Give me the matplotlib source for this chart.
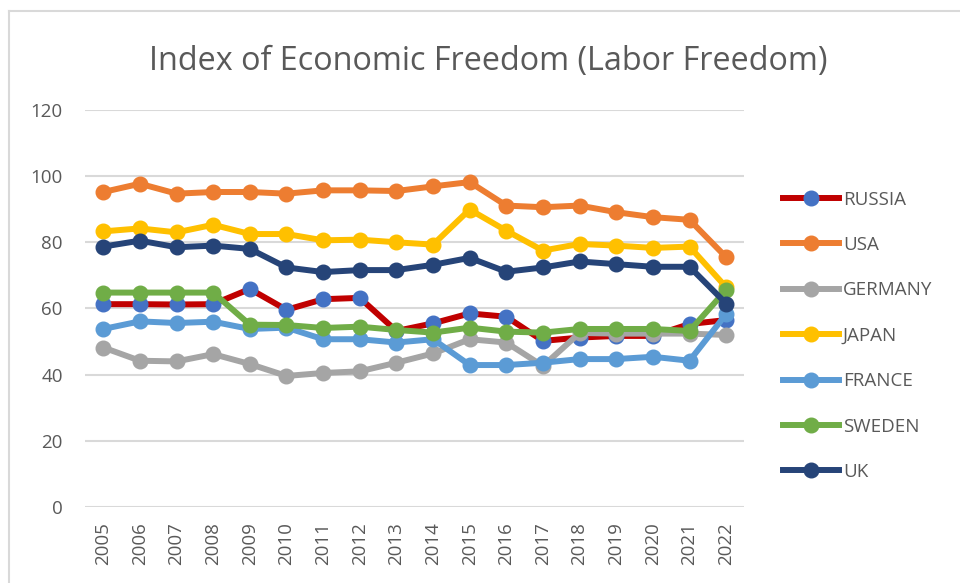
import matplotlib.pyplot as plt
from matplotlib.lines import Line2D

years = [str(y) for y in range(2005, 2023)]

russia = [61.3, 61.3, 61.2, 61.3, 65.9, 59.6, 62.8, 63.2, 53.2, 55.5, 58.5, 57.5, 50.2, 51.2, 51.7, 51.7, 55.3, 56.5]
usa = [95.2, 97.7, 94.7, 95.2, 95.2, 94.7, 95.7, 95.7, 95.5, 96.9, 98.2, 91.1, 90.6, 91.1, 89.1, 87.6, 86.8, 75.5]
germany = [48.2, 44.2, 44.0, 46.2, 43.2, 39.6, 40.5, 41.0, 43.6, 46.4, 50.7, 49.7, 42.6, 52.6, 52.4, 52.4, 52.4, 52.0]
japan = [83.3, 84.2, 83.0, 85.3, 82.5, 82.5, 80.6, 80.8, 80.0, 79.3, 89.9, 83.5, 77.5, 79.5, 79.0, 78.3, 78.7, 66.4]
france = [53.8, 56.1, 55.6, 56.0, 53.8, 54.2, 50.7, 50.7, 49.7, 50.7, 42.9, 42.9, 43.6, 44.7, 44.7, 45.4, 44.2, 58.3]
sweden = [64.8, 64.8, 64.8, 64.8, 55.1, 55.0, 54.1, 54.5, 53.5, 52.7, 54.2, 53.0, 52.7, 53.8, 53.8, 53.8, 53.2, 65.6]
uk = [78.7, 80.5, 78.5, 79.0, 78.0, 72.4, 71.0, 71.6, 71.6, 73.2, 75.3, 71.1, 72.4, 74.2, 73.4, 72.6, 72.6, 61.5]

series = [
    ("RUSSIA", russia, "#C00000", "#4472C4"),
    ("USA", usa, "#ED7D31", "#ED7D31"),
    ("GERMANY", germany, "#A5A5A5", "#A5A5A5"),
    ("JAPAN", japan, "#FFC000", "#FFC000"),
    ("FRANCE", france, "#5B9BD5", "#5B9BD5"),
    ("SWEDEN", sweden, "#70AD47", "#70AD47"),
    ("UK", uk, "#264478", "#264478"),
]

plt.rcParams['font.family'] = ['Open Sans', 'DejaVu Sans']
text_color = "#595959"

fig = plt.figure(figsize=(9.6, 5.83), dpi=100)
ax = fig.add_axes([0.0885, 0.1304, 0.687, 0.681])

x = list(range(len(years)))
for name, vals, lc, mc in series:
    ax.plot(x, vals, color=lc, lw=4.3, marker="o", markersize=10.5,
            markerfacecolor=mc, markeredgecolor=mc, label=name,
            solid_capstyle="round", solid_joinstyle="round")

ax.set_ylim(0, 120)
ax.set_xlim(-0.5, len(years) - 0.5)
ax.set_yticks(range(0, 121, 20))
ax.set_xticks(x)
ax.set_xticklabels(years, rotation=90)
ax.tick_params(axis="both", length=0, labelsize=13.5, colors=text_color)
ax.tick_params(axis="y", pad=16)
ax.tick_params(axis="x", pad=11)
ax.grid(axis="y", color="#D9D9D9", lw=1.5)
ax.set_axisbelow(True)
for s in ax.spines.values():
    s.set_visible(False)

fig.text(0.509, 0.895, "Index of Economic Freedom (Labor Freedom)",
         ha="center", va="center", fontsize=23.3, color=text_color)

handles = [Line2D([0], [0], color=lc, lw=4.3, marker="o", markersize=10.5,
                  markerfacecolor=mc, markeredgecolor=mc)
           for _, _, lc, mc in series]
fig.legend(handles, [s[0] for s in series], loc="center left",
           bbox_to_anchor=(0.8156, 0.424), frameon=False, fontsize=13.5,
           labelcolor=text_color, handlelength=3.0, handletextpad=0.2,
           labelspacing=1.46, borderpad=0, borderaxespad=0)

# chart border (top and left edges visible)
fig.add_artist(Line2D([9 / 960, 1.0], [1 - 11 / 583, 1 - 11 / 583],
                      color="#D9D9D9", lw=1.5, transform=fig.transFigure))
fig.add_artist(Line2D([9 / 960, 9 / 960], [0.0, 1 - 11 / 583],
                      color="#D9D9D9", lw=1.5, transform=fig.transFigure))

fig.savefig("out.png", dpi=100)
plt.close(fig)
